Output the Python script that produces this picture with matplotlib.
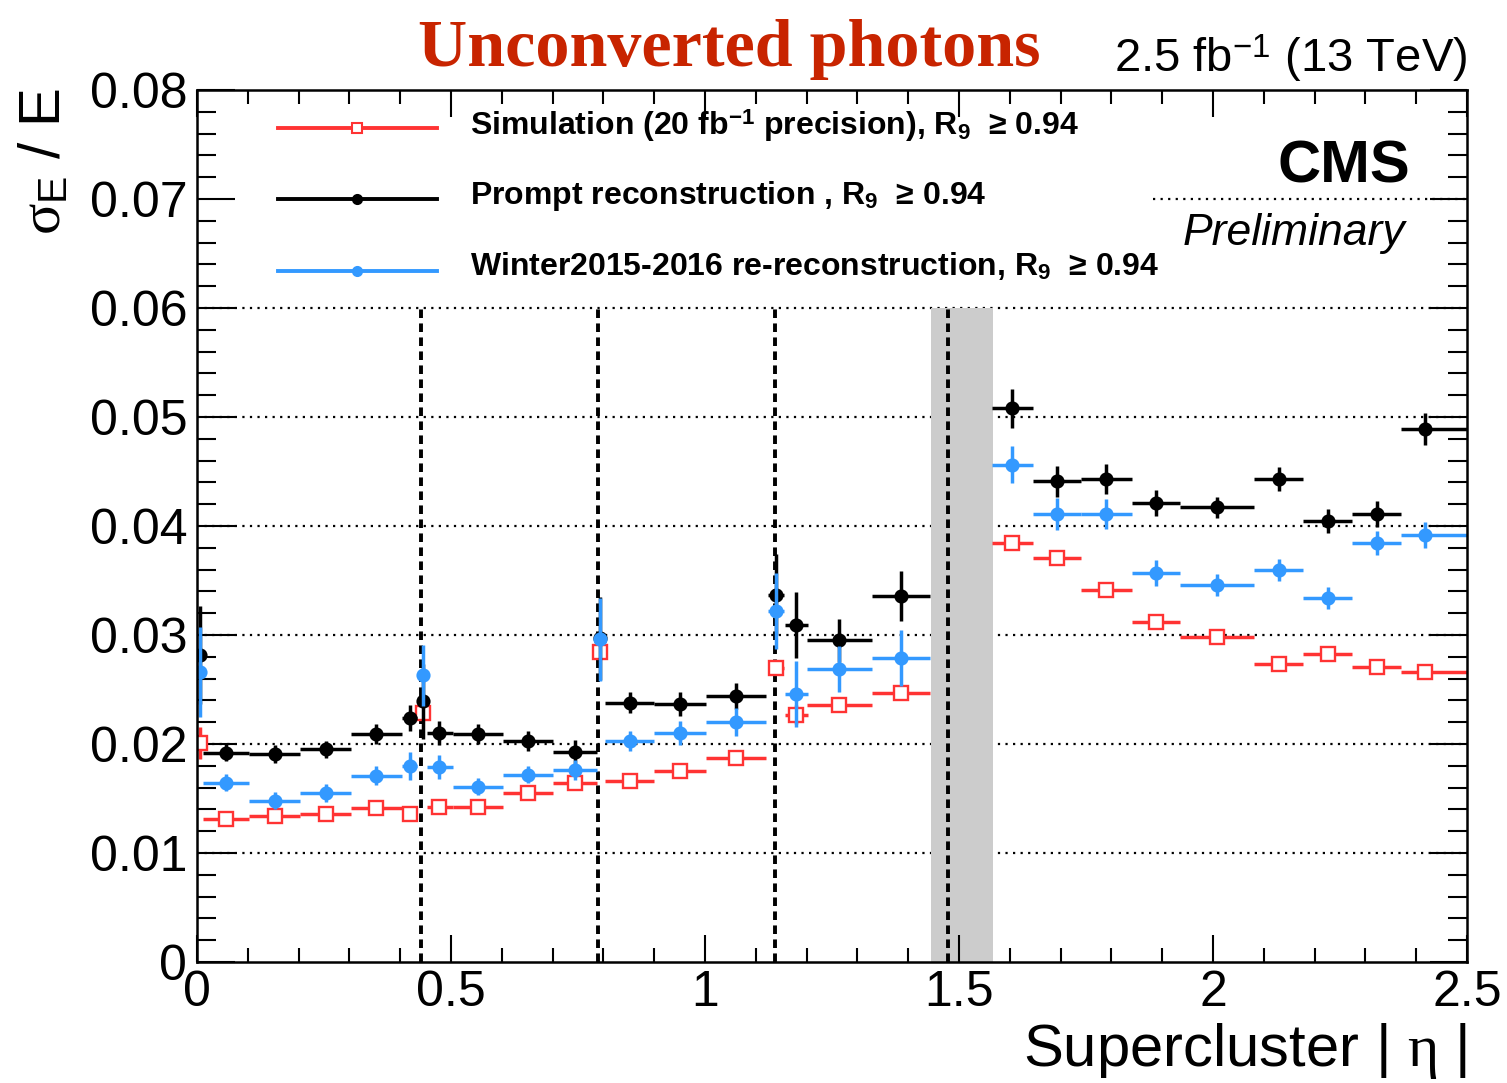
import matplotlib
matplotlib.use("Agg")
import matplotlib.pyplot as plt
from matplotlib.ticker import MultipleLocator

plt.rcParams['font.family'] = ['Liberation Sans', 'DejaVu Sans']
plt.rcParams['mathtext.fontset'] = 'custom'
plt.rcParams['mathtext.rm'] = 'Liberation Sans'
plt.rcParams['mathtext.sf'] = 'Liberation Sans'
plt.rcParams['mathtext.it'] = 'Liberation Serif'
plt.rcParams['mathtext.bf'] = 'Liberation Sans:bold'

# ---- supercluster |eta| bins: point position and bin edges ----
eta = [0.006, 0.057, 0.153, 0.253, 0.353, 0.419, 0.445, 0.477, 0.553, 0.652,
       0.744, 0.793, 0.852, 0.951, 1.061, 1.139, 1.180, 1.264, 1.386,
       1.605, 1.693, 1.790, 1.888, 2.008, 2.129, 2.226, 2.322, 2.418]
eta_lo = [0.000, 0.012, 0.102, 0.203, 0.303, 0.404, 0.437, 0.453, 0.503, 0.603,
          0.700, 0.787, 0.803, 0.900, 1.002, 1.124, 1.157, 1.200, 1.328,
          1.564, 1.645, 1.741, 1.840, 1.936, 2.081, 2.178, 2.274, 2.371]
eta_hi = [0.012, 0.102, 0.203, 0.303, 0.404, 0.433, 0.453, 0.503, 0.603, 0.700,
          0.787, 0.800, 0.900, 1.002, 1.121, 1.155, 1.203, 1.328, 1.443,
          1.646, 1.741, 1.840, 1.936, 2.081, 2.178, 2.274, 2.371, 2.500]

# ---- relative energy resolution sigma_E / E ----
sim_res = [0.0201, 0.01315, 0.0134, 0.0136, 0.0141, 0.01355, 0.0228, 0.01425, 0.0142, 0.0155,
           0.0164, 0.0284, 0.0166, 0.0175, 0.0187, 0.0270, 0.0227, 0.0236, 0.0247,
           0.0384, 0.0371, 0.0341, 0.0312, 0.0298, 0.0273, 0.0283, 0.0271, 0.0266]
sim_err = [0.0015, 0.0003, 0.0003, 0.0003, 0.0003, 0.0003, 0.0005, 0.0003, 0.0003, 0.0003,
           0.0004, 0.0006, 0.0003, 0.0003, 0.0004, 0.0006, 0.0009, 0.0006, 0.0006,
           0.0005, 0.0004, 0.0004, 0.0004, 0.0004, 0.0003, 0.0003, 0.0003, 0.0003]

prompt_res = [0.0282, 0.0192, 0.0191, 0.0195, 0.0209, 0.0224, 0.0239, 0.0210, 0.0209, 0.0203,
              0.0193, 0.0297, 0.0238, 0.0237, 0.0244, 0.0337, 0.0309, 0.0295, 0.0336,
              0.0508, 0.0441, 0.0443, 0.0421, 0.0417, 0.0443, 0.0405, 0.0411, 0.0489]
prompt_err = [0.0045, 0.0008, 0.0008, 0.0008, 0.0009, 0.0012, 0.0034, 0.0011, 0.0009, 0.0009,
              0.0011, 0.0038, 0.0010, 0.0011, 0.0012, 0.0037, 0.0030, 0.0020, 0.0023,
              0.0018, 0.0014, 0.0014, 0.0012, 0.0010, 0.0011, 0.0011, 0.0012, 0.0015]

rereco_res = [0.0266, 0.01645, 0.0148, 0.0155, 0.0171, 0.0180, 0.0263, 0.0179, 0.0161, 0.0172,
              0.0176, 0.0296, 0.0203, 0.0210, 0.0220, 0.0322, 0.0246, 0.0269, 0.0279,
              0.0456, 0.0411, 0.0411, 0.0357, 0.0346, 0.0360, 0.0334, 0.0384, 0.0392]
rereco_err = [0.0041, 0.0008, 0.0008, 0.0008, 0.0009, 0.0013, 0.0028, 0.0011, 0.0008, 0.0008,
              0.0009, 0.0038, 0.0009, 0.0011, 0.0013, 0.0035, 0.0030, 0.0021, 0.0026,
              0.0017, 0.0015, 0.0014, 0.0012, 0.0010, 0.0010, 0.0010, 0.0011, 0.0012]

legend_labels = [
    r"Simulation (20 fb$^{\mathbf{-1}}$ precision), R$_{\mathbf{9}}$  ≥ 0.94",
    r"Prompt reconstruction , R$_{\mathbf{9}}$  ≥ 0.94",
    r"Winter2015-2016 re-reconstruction, R$_{\mathbf{9}}$  ≥ 0.94",
]

# ECAL module boundaries and barrel/endcap transition
module_edges = [0.44, 0.79, 1.138, 1.479]
gap_lo, gap_hi = 1.4442, 1.566

xticks = [0, 0.5, 1, 1.5, 2, 2.5]
xtick_labels = ["0", "0.5", "1", "1.5", "2", "2.5"]
yticks = [0, 0.01, 0.02, 0.03, 0.04, 0.05, 0.06, 0.07, 0.08]
ytick_labels = ["0", "0.01", "0.02", "0.03", "0.04", "0.05", "0.06", "0.07", "0.08"]

RED = '#ff3333'
BLUE = '#3399ff'
BLACK = '#000000'

W, H = 1507, 1083
fig = plt.figure(figsize=(W / 100, H / 100), dpi=100)
ax = fig.add_axes([197 / W, 1 - 962 / H, (1467 - 197) / W, (962 - 90) / H])
ax.set_xlim(0, 2.5)
ax.set_ylim(0, 0.08)

# dotted horizontal grid; the legend area stays clear
for y in yticks[1:-1]:
    xmin = 0.0 if y < 0.065 else (1153 - 197) / 1270
    ax.axhline(y, xmin=xmin, xmax=1, color='black', lw=1.6,
               ls=(0, (1, 2.4)), zorder=1)

# crack between barrel and endcap
ax.fill_between([gap_lo, gap_hi], 0, 0.06, color='#cccccc', lw=0, zorder=1.5)
ax.vlines(module_edges, 0, 0.06, colors='black', lw=2.8,
          linestyles=[(0, (2.2, 1.4))], zorder=2)


def draw_series(vals, errs, color, marker, ms, mfc, z):
    xl = [c - lo for c, lo in zip(eta, eta_lo)]
    xh = [hi - c for c, hi in zip(eta, eta_hi)]
    ax.errorbar(eta, vals, xerr=[xl, xh], yerr=errs, fmt=marker, color=color,
                ms=ms, mfc=mfc, mec=color, mew=1.7, elinewidth=2.5, capsize=0,
                zorder=z)


draw_series(sim_res, sim_err, RED, 's', 9.5, 'white', 3)
draw_series(prompt_res, prompt_err, BLACK, 'o', 8.5, BLACK, 4)
draw_series(rereco_res, rereco_err, BLUE, 'o', 8.5, BLUE, 5)

# legend drawn in axes coordinates
leg_y = [(962 - 128) / 872, (962 - 199) / 872, (962 - 271) / 872]
leg_text_y = [(962 - 135) / 872, (962 - 204) / 872, (962 - 275) / 872]
x0, x1, xm = (278 - 197) / 1270, (437 - 197) / 1270, (357 - 197) / 1270
styles = [(RED, 's', 'white', 7.5), (BLACK, 'o', BLACK, 6.5), (BLUE, 'o', BLUE, 6.5)]
for (col, mk, fc, ms), yl, yt, lab in zip(styles, leg_y, leg_text_y, legend_labels):
    ax.plot([x0, x1], [yl, yl], color=col, lw=2.8, transform=ax.transAxes,
            clip_on=False, zorder=6)
    ax.plot([xm], [yl], marker=mk, ms=ms, mfc=fc, mec=col, mew=1.5,
            transform=ax.transAxes, clip_on=False, zorder=7, ls='none')
    ax.text((470 - 197) / 1270, yt, lab, transform=ax.transAxes,
            fontsize=23, fontweight='bold',
            family=['Liberation Sans Narrow', 'Liberation Sans', 'DejaVu Sans'],
            ha='left', va='baseline', zorder=7)

# axes styling
ax.set_xticks(xticks)
ax.set_xticklabels(xtick_labels)
ax.set_yticks(yticks)
ax.set_yticklabels(ytick_labels)
ax.xaxis.set_minor_locator(MultipleLocator(0.1))
ax.yaxis.set_minor_locator(MultipleLocator(0.002))
ax.tick_params(axis='both', which='both', direction='in', top=True, right=True,
               width=1.5, labelsize=36)
ax.tick_params(axis='x', which='major', length=19.5, pad=6)
ax.tick_params(axis='x', which='minor', length=9.8)
ax.tick_params(axis='y', which='major', length=27, pad=7)
ax.tick_params(axis='y', which='minor', length=13.5)
for sp in ax.spines.values():
    sp.set_linewidth(1.8)
    sp.set_zorder(8)

# labels and captions
fig.text(418 / W, 1 - 66 / H, "Unconverted photons", ha='left', va='baseline',
         fontsize=49, fontweight='bold', family=['Liberation Serif', 'DejaVu Serif'],
         color='#c82400')
fig.text(1467 / W, 1 - 72 / H, r"2.5 fb$^{-1}$ (13 TeV)", ha='right',
         va='baseline', fontsize=34)
fig.text(1410 / W, 1 - 183 / H, "CMS", ha='right', va='baseline',
         fontsize=43, fontweight='bold')
fig.text(1405 / W, 1 - 245 / H, "Preliminary", ha='right', va='baseline',
         fontsize=32, style='italic')
fig.text(1467 / W, 1 - 1066 / H, r"Supercluster | $\eta$ |", ha='right',
         va='baseline', fontsize=43)
fig.text(45 / W, 1 - 88 / H, r"$\sigma_{\mathsf{E}}$ / E", rotation=90,
         ha='center', va='top', fontsize=42)

fig.savefig("out.png", dpi=100)
